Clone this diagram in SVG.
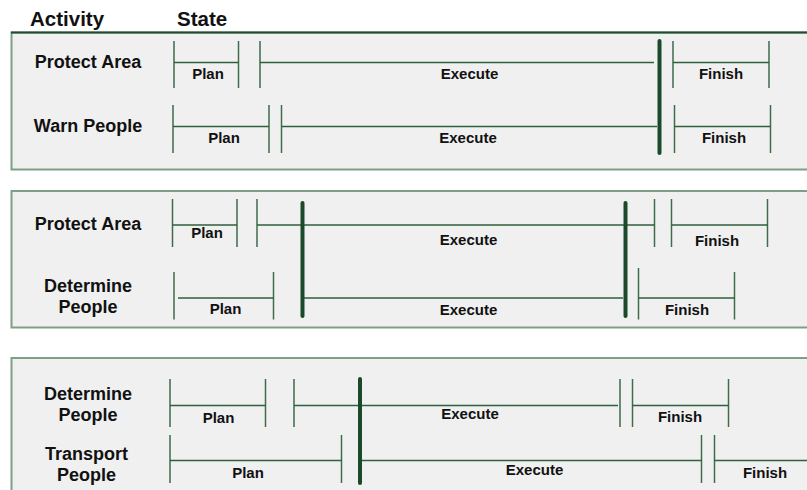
<svg xmlns="http://www.w3.org/2000/svg" width="807" height="490" viewBox="0 0 807 490">
<style>
.panel{fill:#f0f0f0;stroke:#7f9e88;stroke-width:2}
.ptop{stroke:#1f4d2d;stroke-width:2}
.lbl{font-family:"Liberation Sans",Arial,sans-serif;font-weight:bold;font-size:18px;fill:#111;text-anchor:middle}
.hdr{font-family:"Liberation Sans",Arial,sans-serif;font-weight:bold;font-size:20.5px;fill:#111}
.st{font-family:"Liberation Sans",Arial,sans-serif;font-weight:bold;font-size:15px;fill:#111;text-anchor:middle}
.ln{stroke:#2f5f3d;stroke-width:1.4;fill:none}
.tk{stroke:#3f6b4b;stroke-width:1.5;fill:none}
.bar{stroke:#1a4a2a;stroke-width:4;stroke-linecap:round;fill:none}
</style>
<rect width="807" height="490" fill="#ffffff"/>
<g id="headers">
<text class="hdr" x="30" y="25.5">Activity</text>
<text class="hdr" x="177" y="25.5">State</text>
</g>
<g id="panel1">
<rect class="panel" x="11.5" y="32.5" width="820" height="137"/>
<line class="ptop" x1="11" y1="32.5" x2="807" y2="32.5"/>
</g>
<g id="panel2">
<rect class="panel" x="11.5" y="191" width="820" height="136.5"/>
</g>
<g id="panel3">
<rect class="panel" x="11.5" y="358" width="820" height="150"/>
</g>
<g id="connectors">
<!-- panel 1 row 1 -->
<path class="tk" d="M174,41V88M238.5,41V88M260,41V88M673,41V88M769,41V88"/>
<path class="ln" d="M174,62.5H238.5M260,62.5H654M673,62.5H769"/>
<!-- panel 1 row 2 -->
<path class="tk" d="M173,105V153M269,105V153M281.5,105V153M674.5,105V153M770.5,105V153"/>
<path class="ln" d="M173,126.5H269M281.5,126.5H657M674.5,126.5H770.5"/>
<line class="bar" x1="659.5" y1="41" x2="659.5" y2="153"/>
<!-- panel 2 row 1 -->
<path class="tk" d="M172.5,199V247M237,199V247M257,199V247M654.5,199V247M671.5,199V247M767.5,199V247"/>
<path class="ln" d="M172.5,225H237M257,225H654.5M671.5,225H767.5"/>
<!-- panel 2 row 2 -->
<path class="tk" d="M174,272V319.5M273.5,272V319.5M638.5,268V319.5M734.5,272V319.5"/>
<path class="ln" d="M178,298H273.5M302,298H623M638.5,298H734.5"/>
<line class="bar" x1="302.5" y1="203" x2="302.5" y2="316"/>
<line class="bar" x1="625.5" y1="203" x2="625.5" y2="316"/>
<!-- panel 3 row 1 -->
<path class="tk" d="M170,379V427M265.5,379V427M294,379V427M620,379V427M632.5,379V427M728.5,379V427"/>
<path class="ln" d="M170,405.5H265.5M294,405.5H618M632.5,405.5H728.5"/>
<!-- panel 3 row 2 -->
<path class="tk" d="M170,435V483M341.5,435V483M701.5,435V483M714.5,435V483"/>
<path class="ln" d="M170,460.5H341.5M360,460.5H701.5M714.5,460.5H807"/>
<line class="bar" x1="360" y1="379" x2="360" y2="483"/>
</g>
<g id="row-p1-protect">
<text class="lbl" x="88" y="68">Protect Area</text>
<text class="st" x="208" y="79">Plan</text>
<text class="st" x="469.5" y="79">Execute</text>
<text class="st" x="721" y="79">Finish</text>
</g>
<g id="row-p1-warn">
<text class="lbl" x="88" y="132">Warn People</text>
<text class="st" x="224" y="142.5">Plan</text>
<text class="st" x="468" y="142.5">Execute</text>
<text class="st" x="724" y="143">Finish</text>
</g>
<g id="row-p2-protect">
<text class="lbl" x="88" y="229.5">Protect Area</text>
<text class="st" x="207" y="237.5">Plan</text>
<text class="st" x="468.5" y="245">Execute</text>
<text class="st" x="717" y="246">Finish</text>
</g>
<g id="row-p2-determine">
<text class="lbl" x="88" y="292">Determine</text>
<text class="lbl" x="88" y="313">People</text>
<text class="st" x="225.5" y="314">Plan</text>
<text class="st" x="468.5" y="315">Execute</text>
<text class="st" x="687" y="315">Finish</text>
</g>
<g id="row-p3-determine">
<text class="lbl" x="88" y="400">Determine</text>
<text class="lbl" x="88" y="421">People</text>
<text class="st" x="218.5" y="422.5">Plan</text>
<text class="st" x="470" y="418.5">Execute</text>
<text class="st" x="680" y="422">Finish</text>
</g>
<g id="row-p3-transport">
<text class="lbl" x="86.5" y="459.5">Transport</text>
<text class="lbl" x="86.5" y="480.5">People</text>
<text class="st" x="248" y="478">Plan</text>
<text class="st" x="534.5" y="475">Execute</text>
<text class="st" x="765" y="478">Finish</text>
</g>
</svg>
